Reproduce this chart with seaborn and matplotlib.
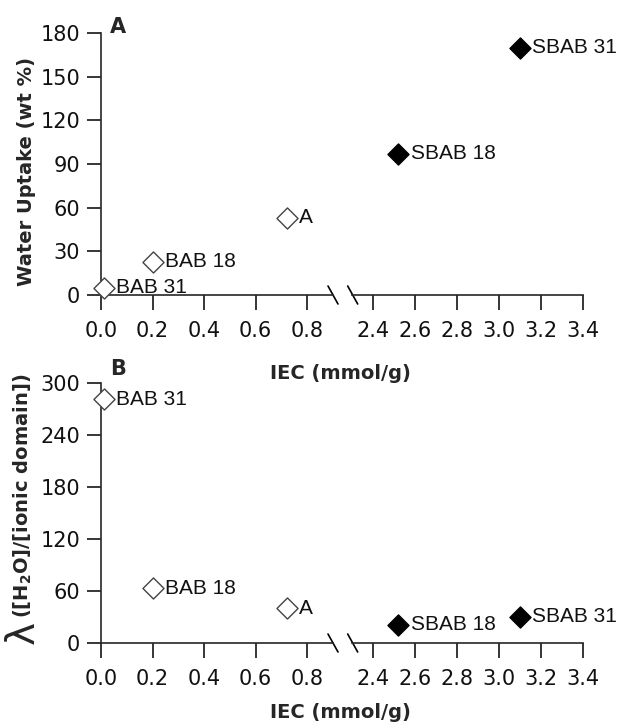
import matplotlib
matplotlib.use("Agg")
import matplotlib.pyplot as plt
import seaborn as sns
import pandas as pd

# Membrane samples: ion exchange capacity, water uptake and hydration number
names = ["BAB 31", "BAB 18", "A", "SBAB 18", "SBAB 31"]
iec = [0.01, 0.20, 0.72, 2.52, 3.10]
water_uptake = [5, 23, 53, 97, 170]
hydration = [281, 63, 40, 21, 30]
sulfonated = [False, False, False, True, True]

left_ticks = [0.0, 0.2, 0.4, 0.6, 0.8]
right_ticks = [2.4, 2.6, 2.8, 3.0, 3.2, 3.4]
wu_ticks = [0, 30, 60, 90, 120, 150, 180]
lam_ticks = [0, 60, 120, 180, 240, 300]

df = pd.DataFrame({"name": names, "iec": iec, "wu": water_uptake,
                   "lam": hydration, "sulf": sulfonated})

sns.set_style("ticks")
plt.rcParams["font.family"] = ["DejaVu Sans"]
plt.rcParams["mathtext.default"] = "regular"

W, H = 618, 724
fig = plt.figure(figsize=(W / 100, H / 100), dpi=100)


def px_axes(x0, x1, y_top, y_bot):
    return fig.add_axes([x0 / W, 1 - y_bot / H, (x1 - x0) / W, (y_bot - y_top) / H])


def draw_panel(y_top, y_bot, col, yticks, ylim, letter, letter_base, xlabel_y):
    axl = px_axes(101, 333, y_top, y_bot)
    axr = px_axes(352, 583, y_top, y_bot)
    for ax, lo, hi in ((axl, 0.0, 0.9), (axr, 2.3, 3.4)):
        sub = df[(df.iec >= lo) & (df.iec <= hi)]
        open_pts = sub[~sub.sulf]
        filled_pts = sub[sub.sulf]
        if len(open_pts):
            sns.scatterplot(data=open_pts, x="iec", y=col, ax=ax, marker="D",
                            s=115, facecolor="white", edgecolor="#444444",
                            linewidth=1.0, clip_on=False, zorder=5)
        if len(filled_pts):
            sns.scatterplot(data=filled_pts, x="iec", y=col, ax=ax, marker="D",
                            s=115, color="black", edgecolor="black",
                            linewidth=1.0, clip_on=False, zorder=5)
        for _, r in sub.iterrows():
            ax.annotate(r["name"], (r["iec"], r[col]), xytext=(9, 0),
                        textcoords="offset points", va="center", ha="left",
                        fontsize=15, family="Liberation Sans", color="#111111",
                        zorder=6)
        ax.set_xlim(lo, hi)
        ax.set_ylim(*ylim)
        ax.set_xlabel("")
        ax.set_ylabel("")
        ax.patch.set_alpha(0)
        for s in ("top", "right"):
            ax.spines[s].set_visible(False)
        ax.spines["bottom"].set_linewidth(1.2)
        ax.spines["left"].set_linewidth(1.2)
        ax.tick_params(axis="both", direction="out", width=1.1, labelsize=15,
                       colors="black", labelcolor="#111111")
        ax.tick_params(axis="x", length=11, pad=8)
        ax.tick_params(axis="y", length=10, pad=5)
    axl.set_xticks(left_ticks)
    axl.set_xticklabels([f"{t:.1f}" for t in left_ticks])
    axr.set_xticks(right_ticks)
    axr.set_xticklabels([f"{t:.1f}" for t in right_ticks])
    axl.set_yticks(yticks)
    axr.spines["left"].set_visible(False)
    axr.set_yticks([])

    # break marks on the x axis
    h = y_bot - y_top
    dx_l, dx_r, dy = 5 / 232, 5 / 231, 9 / h
    axl.plot([1 - dx_l, 1 + dx_l], [dy, -dy], transform=axl.transAxes,
             color="black", lw=1.2, clip_on=False)
    axr.plot([0 - dx_r + 0.003, 0 + dx_r + 0.003], [dy, -dy], transform=axr.transAxes,
             color="black", lw=1.2, clip_on=False)

    fig.text(110 / W, 1 - letter_base / H, letter, fontsize=15, fontweight="heavy",
             ha="left", va="baseline")
    fig.text(340 / W, 1 - xlabel_y / H, "IEC (mmol/g)", fontsize=14,
             fontweight="bold", ha="center", va="center")
    return axl, axr


draw_panel(33, 295, "wu", wu_ticks, (0, 180), "A", 33, 374)
draw_panel(383, 643, "lam", lam_ticks, (0, 300), "B", 375, 712)

fig.text(27 / W, 1 - 171 / H, "Water Uptake (wt %)", rotation=90,
         fontsize=14, fontweight="bold", ha="center", va="center")
fig.text(23 / W, 1 - 496 / H, "([H$_2$O]/[ionic domain])", rotation=90,
         fontsize=14, fontweight="bold", ha="center", va="center")
fig.text(23 / W, 1 - 633 / H, "λ", rotation=90, fontsize=28,
         ha="center", va="center")

fig.savefig("out.png", dpi=100, facecolor="white")
